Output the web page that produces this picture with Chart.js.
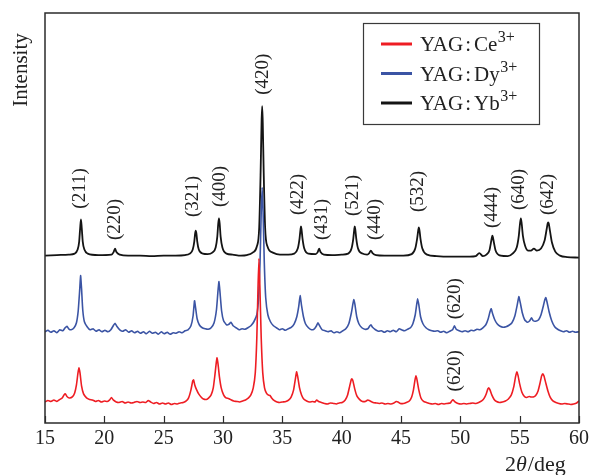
<!DOCTYPE html>
<html><head><meta charset="utf-8">
<script src="https://cdn.jsdelivr.net/npm/chart.js@4"></script>
<style>html,body{margin:0;padding:0;background:#fff}</style>
</head><body>
<canvas id="c" width="590" height="475"></canvas>
<script>
// ---- data (y = offset intensity, arbitrary units) ----
const xTicks = [15, 20, 25, 30, 35, 40, 45, 50, 55, 60];
const seriesNames = ['YAG:Ce', 'YAG:Dy', 'YAG:Yb'];
const seriesSup = ['3+', '3+', '3+'];
const seriesColors = ['#ee1d23', '#3b54a4', '#141414'];

const ybTheta = [15.0,16.0,17.0,17.5,17.75,17.88,17.96,18.03,18.10,18.18,18.32,18.6,19.5,20.6,20.78,20.9,21.02,21.3,22,23,24,25,26,26.8,27.2,27.45,27.58,27.65,27.7,27.76,27.83,27.96,28.3,28.7,29.1,29.38,29.52,29.6,29.66,29.72,29.8,29.95,30.3,30.8,31.5,32.0,32.5,32.85,33.05,33.17,33.25,33.3,33.35,33.43,33.55,33.75,34.2,34.8,35.5,36.0,36.3,36.45,36.53,36.57,36.62,36.7,36.85,37.2,37.8,37.98,38.1,38.22,38.5,39.2,40.0,40.55,40.83,40.98,41.06,41.1,41.15,41.23,41.38,41.75,42.15,42.33,42.46,42.6,42.9,43.6,44.4,45.2,45.9,46.2,46.36,46.45,46.5,46.56,46.64,46.8,47.2,48.0,49.0,50.0,50.8,51.3,51.6,51.9,52.2,52.45,52.58,52.66,52.7,52.75,52.83,52.97,53.4,54.0,54.4,54.75,54.93,55.03,55.1,55.17,55.27,55.45,55.7,55.95,56.2,56.45,56.8,57.1,57.27,57.36,57.4,57.45,57.55,57.72,58.0,58.4,59.0,60.0];
const ybIntensity = [167,167.5,168,169,173,181,194,203,194,181,173,169,167.5,168,170.5,174,170.5,168,167,167,166.5,167,167,167.5,169,173,181,189,192,189,181,173,169,168.5,170,175,186,199,204,199,186,175,169,168,167,167.5,170,176,195,250,300,316,300,250,195,176,170,168,168,169,174,184,193,196,193,184,174,169,168.5,170.5,174,170.5,168,167.5,168,169,174,184,193,196,193,184,174,169,168,169.5,172,169.5,167.5,167,167,167,168.5,174,184,192,195,192,184,174,168,166.5,166,166,166,166.5,169.5,166.5,168,172,180,185,187,185,180,172,167,166.5,169,175,187,199,204,199,187,177,172,172,174,172,174,182,193,199,200,199,192,180,171,167,165.5,165];

const dyTheta = [15.0,15.25,15.5,15.75,16.0,16.25,16.5,16.7,16.85,17.0,17.2,17.45,17.65,17.8,17.92,18.0,18.08,18.18,18.32,18.55,18.8,19.05,19.3,19.55,19.8,20.05,20.3,20.55,20.75,20.9,21.05,21.3,21.55,21.8,22.05,22.3,22.55,22.8,23.05,23.3,23.55,23.8,24.05,24.3,24.55,24.8,25.05,25.3,25.55,25.8,26.05,26.3,26.55,26.8,27.05,27.3,27.48,27.6,27.7,27.82,28.0,28.25,28.5,28.75,29.0,29.25,29.45,29.58,29.66,29.75,29.88,30.05,30.3,30.5,30.67,30.85,31.1,31.35,31.6,31.85,32.1,32.35,32.6,32.85,33.0,33.12,33.22,33.3,33.38,33.48,33.6,33.78,34.0,34.25,34.5,34.75,35.0,35.25,35.5,35.75,36.0,36.22,36.38,36.5,36.62,36.78,36.95,37.2,37.45,37.7,37.88,38.0,38.12,38.35,38.6,38.85,39.1,39.35,39.6,39.85,40.1,40.35,40.6,40.82,40.95,41.03,41.12,41.27,41.45,41.7,41.95,42.2,42.35,42.46,42.6,42.85,43.1,43.35,43.6,43.85,44.1,44.35,44.6,44.85,45.05,45.3,45.55,45.8,46.0,46.2,46.32,46.4,46.5,46.65,46.85,47.1,47.35,47.6,47.85,48.1,48.35,48.6,48.85,49.1,49.35,49.5,49.65,49.9,50.15,50.4,50.65,50.9,51.15,51.4,51.65,51.9,52.15,52.35,52.5,52.6,52.72,52.9,53.1,53.35,53.6,53.85,54.1,54.35,54.6,54.8,54.93,55.05,55.22,55.42,55.65,55.85,56.0,56.15,56.35,56.6,56.8,57.0,57.12,57.2,57.3,57.48,57.7,57.95,58.2,58.45,58.7,58.95,59.2,59.45,59.7,60.0];
const dyIntensity = [91,92.5,90.5,92,90,93,92,95,96.5,94,93,95,100,112,132,147,134,113,101,96,93,94,91.5,93,91,92.5,91,93,97,99.5,96.5,93,91.5,93,90.5,92,90,91.5,89.5,91,89,91.5,89.5,90.5,88.5,91,89,90.5,88.5,90,89.5,91,90,92,93,97,107,122,114,104,98,95,94,93.5,95,100,113,132,141,130,112,102,98,98.5,100.5,97,95,93,94,93.5,95,97,101,108,125,160,210,235,210,160,125,108,101,97,95,93,94,92.5,94,95.5,99,106,116,127,117,106,99,95,93,94,97,100,97.5,93,92,91,92,90,91,90,92,94,99,110,119,123,118,106,99,95,93.5,94,96.5,98,95.5,93,91.5,92,90.5,92,91,92.5,91,94,93,92,93.5,95,99,108,118,124,118,106,99,95,93,92,91.5,92,90.5,91.5,90,91.5,93,97,93.5,92,91,92,91,92.5,92,93.5,93,95,98,104,111,114,109,103,99,96.5,95.5,96,97.5,100,107,118,126,120,110,103,100.5,102,105,102,101.5,103,108,117,123,125,121,111,102,96,93.5,92,91,92,90.5,91.5,90.5,91];

const ceTheta = [15.0,15.25,15.5,15.75,16.0,16.25,16.45,16.6,16.72,16.85,17.05,17.3,17.5,17.65,17.78,17.86,17.95,18.08,18.25,18.5,18.75,19.0,19.25,19.5,19.75,20.0,20.25,20.45,20.6,20.75,21.0,21.25,21.5,21.75,22.0,22.25,22.5,22.75,23.0,23.25,23.5,23.7,23.9,24.15,24.4,24.65,24.9,25.15,25.4,25.65,25.9,26.15,26.4,26.65,26.9,27.1,27.3,27.45,27.52,27.62,27.78,27.95,28.15,28.35,28.6,28.8,29.0,29.18,29.32,29.43,29.5,29.58,29.7,29.85,30.05,30.25,30.45,30.55,30.7,30.9,31.15,31.4,31.65,31.9,32.15,32.35,32.55,32.72,32.85,32.95,33.03,33.11,33.22,33.35,33.5,33.65,33.8,33.95,34.1,34.3,34.55,34.8,35.05,35.3,35.55,35.75,35.95,36.1,36.2,36.3,36.45,36.62,36.8,37.05,37.3,37.55,37.75,37.9,38.05,38.3,38.55,38.8,39.05,39.3,39.55,39.8,40.05,40.3,40.5,40.68,40.8,40.86,40.95,41.1,41.28,41.5,41.75,42.0,42.2,42.4,42.65,42.9,43.15,43.4,43.65,43.9,44.15,44.4,44.6,44.75,44.95,45.2,45.45,45.7,45.9,46.05,46.18,46.26,46.35,46.5,46.68,46.9,47.15,47.4,47.65,47.9,48.15,48.4,48.65,48.9,49.15,49.3,49.4,49.55,49.8,50.05,50.3,50.55,50.8,51.05,51.3,51.55,51.8,52.0,52.18,52.32,52.4,52.5,52.65,52.85,53.05,53.3,53.55,53.8,54.05,54.3,54.5,54.65,54.76,54.87,55.0,55.18,55.4,55.6,55.8,55.95,56.15,56.35,56.55,56.72,56.85,56.95,57.05,57.2,57.38,57.58,57.8,58.05,58.3,58.55,58.8,59.05,59.3,59.55,59.8,60.0];
const ceIntensity = [21,22.5,21.5,23,21.5,23.5,25,28,29,26.5,25,26,30,38,50,55,50,37,29,25,23.5,23,21.5,22.5,21,22,21.5,23,25.5,23,21,20.5,21.5,20,21,20,20.5,21.5,20.5,21,20.5,22.5,21,19.5,20.5,19,20,19,20,18.5,19.5,19,20,20.5,22,25,33,42,43,38,33,29,26,24,23.5,25,28,35,48,60,65,59,46,35,28,25,24.5,24,23,22,21.5,21,22,23,25,28,35,50,85,135,164,135,85,50,35,30,28,27.5,25,22.5,21,20.5,21,21.5,23,26,33,44,51,46,35,28,24,22,21,21.5,21,23,21.5,20.5,19.5,19,20,19.5,19,20,20.5,23,28,37,43,44,42,34,27,23.5,21.5,21.5,23,22,20.5,20,19.5,20,19,19.5,19,20,21.5,21,19.5,19.5,20.5,22,26,33,43,47,43,33,25,21.5,20.5,19.5,19,19.5,18.5,19.5,19,19.5,20,22.5,23,21,19.5,19,19.5,19,19.5,20,19.5,20.5,22,24.5,29,34,35,33,28,23.5,21.5,20.5,21,22,24,28,36,46,51,47,39,31,26.5,25.5,26.5,26,26,27.5,32,40,47,49,47,40,32,25.5,22,20.5,19.5,19,19.5,19,18.5,19,20,22];

// Miller-index labels: text, 2θ position, vertical level (same units as intensity)
const peakLabels = ['(211)','(220)','(321)','(400)','(420)','(422)','(431)','(521)','(440)','(532)','(444)','(640)','(642)','(620)','(620)'];
const peakTheta  = [17.95, 20.9, 27.47, 29.74, 33.37, 36.3, 38.34, 40.95, 42.8, 46.42, 52.66, 54.93, 57.38, 49.54, 49.54];
const peakLevel  = [234, 203, 226, 236, 348, 228, 203, 227, 203, 231, 215, 233, 228, 124, 52];

// ---- chart ----
const SERIF = '"Liberation Serif", "DejaVu Serif", serif';
const xyPairs = (xs, ys) => xs.map((x, i) => ({ x: x, y: ys[i] }));

const decor = {
  id: 'decor',
  afterDraw(chart) {
    const ctx = chart.ctx;
    const a = chart.chartArea;
    const xs = chart.scales.x, ys = chart.scales.y;
    ctx.save();
    // frame
    ctx.strokeStyle = '#2b2b2b';
    ctx.lineWidth = 1.5;
    ctx.strokeRect(a.left, a.top, a.right - a.left, a.bottom - a.top);
    // inward tick marks on the bottom axis
    ctx.lineWidth = 1.2;
    xTicks.forEach(v => {
      const px = Math.round(xs.getPixelForValue(v)) + 0.5;
      ctx.beginPath();
      ctx.moveTo(px, a.bottom);
      ctx.lineTo(px, a.bottom - 7);
      ctx.stroke();
    });
    // peak labels (rotated)
    ctx.fillStyle = '#222';
    ctx.font = '19px ' + SERIF;
    ctx.textAlign = 'center';
    ctx.textBaseline = 'middle';
    peakLabels.forEach((t, i) => {
      const px = xs.getPixelForValue(peakTheta[i]);
      const py = ys.getPixelForValue(peakLevel[i]);
      ctx.save();
      ctx.translate(px, py);
      ctx.rotate(-Math.PI / 2);
      ctx.fillText(t, 0, 0);
      ctx.restore();
    });
    // y title
    ctx.save();
    ctx.font = '21px ' + SERIF;
    ctx.translate(21, 70);
    ctx.rotate(-Math.PI / 2);
    ctx.fillText('Intensity', 0, 0);
    ctx.restore();
    // x title  2θ/deg
    ctx.textAlign = 'left';
    ctx.textBaseline = 'alphabetic';
    let tx = 505, ty = 471;
    ctx.font = '22px ' + SERIF;
    ctx.fillText('2', tx, ty); tx += ctx.measureText('2').width;
    ctx.font = 'italic 22px ' + SERIF;
    ctx.fillText('\u03B8', tx, ty); tx += ctx.measureText('\u03B8').width + 1;
    ctx.font = '22px ' + SERIF;
    ctx.fillText('/deg', tx, ty);
    // legend
    const lx = 363, ly = 23, lw = 176, lh = 101;
    ctx.fillStyle = '#fff';
    ctx.fillRect(lx, ly, lw, lh);
    ctx.strokeStyle = '#3a3a3a';
    ctx.lineWidth = 1.2;
    ctx.strokeRect(lx + 0.5, ly + 0.5, lw, lh);
    seriesNames.forEach((name, i) => {
      const cy = 44 + i * 29.5;
      ctx.strokeStyle = seriesColors[i];
      ctx.lineWidth = 3;
      ctx.beginPath();
      ctx.moveTo(381, cy);
      ctx.lineTo(412, cy);
      ctx.stroke();
      ctx.fillStyle = '#222';
      ctx.font = '21px ' + SERIF;
      const parts = name.split(':');
      let x = 420;
      const base = cy + 7;
      ctx.fillText(parts[0], x, base); x += ctx.measureText(parts[0]).width + 2;
      ctx.fillText(':', x, base); x += ctx.measureText(':').width + 3;
      ctx.fillText(parts[1], x, base); x += ctx.measureText(parts[1]).width + 0.5;
      ctx.font = '16px ' + SERIF;
      ctx.fillText(seriesSup[i], x, base - 9);
    });
    ctx.restore();
  }
};

new Chart(document.getElementById('c'), {
  type: 'line',
  data: {
    datasets: [
      { label: seriesNames[0], data: xyPairs(ceTheta, ceIntensity), borderColor: seriesColors[0], borderWidth: 1.6, tension: 0.15, cubicInterpolationMode: 'default', order: 0 },
      { label: seriesNames[1], data: xyPairs(dyTheta, dyIntensity), borderColor: seriesColors[1], borderWidth: 1.6, tension: 0.15, cubicInterpolationMode: 'default', order: 1 },
      { label: seriesNames[2], data: xyPairs(ybTheta, ybIntensity), borderColor: seriesColors[2], borderWidth: 1.8, cubicInterpolationMode: 'monotone', order: 2 }
    ]
  },
  options: {
    responsive: false,
    animation: false,
    devicePixelRatio: 1,
    layout: { padding: { left: 45, right: 11, top: 13, bottom: 20 } },
    elements: {
      point: { radius: 0 },
      line: { fill: false }
    },
    plugins: { legend: { display: false }, tooltip: { enabled: false } },
    scales: {
      x: {
        type: 'linear', min: 15, max: 60,
        afterBuildTicks: s => { s.ticks = xTicks.map(v => ({ value: v })); },
        afterFit: s => { s.paddingLeft = 0; s.paddingRight = 0; },
        grid: { display: false, drawTicks: false },
        border: { display: false },
        ticks: { color: '#222', font: { family: SERIF, size: 20 }, padding: 4, maxRotation: 0 }
      },
      y: {
        type: 'linear', min: 0, max: 409, display: false
      }
    }
  },
  plugins: [decor]
});
</script>
</body></html>
